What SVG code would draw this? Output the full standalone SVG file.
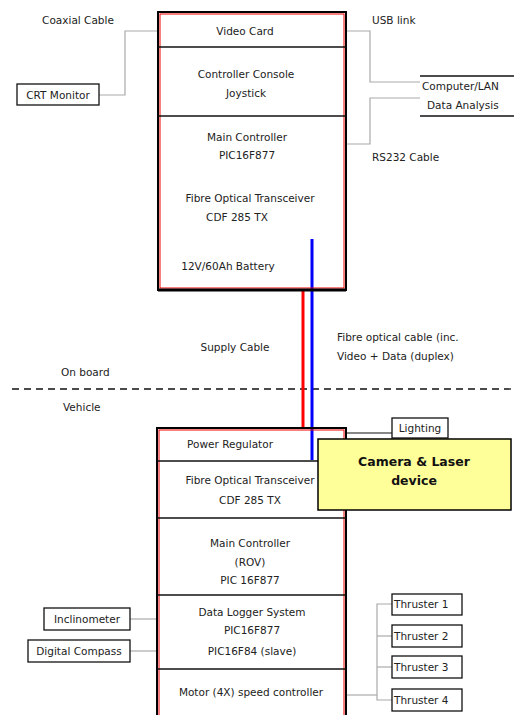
<svg xmlns="http://www.w3.org/2000/svg" width="514" height="715" viewBox="0 0 514 715">
<style>
text{font-family:"DejaVu Sans",Verdana,sans-serif;font-size:10.5px;fill:#222;text-anchor:middle}
.l{text-anchor:start}
.out{fill:none;stroke:#000;stroke-width:2}
.in{fill:none;stroke:#e00;stroke-width:1}
.div{stroke:#111;stroke-width:1.5}
.gray{fill:none;stroke:#aaa;stroke-width:1.2}
.sb{fill:#fff;stroke:#111;stroke-width:1.3}
.cam{font-family:"DejaVu Sans",Verdana,sans-serif;font-weight:bold;font-size:12.5px;fill:#111}
</style>
<rect width="514" height="715" fill="#fff"/>
<g id="connectors">
<polyline class="gray" points="99,95 125,95 125,31 158,31"/>
<polyline class="gray" points="346,31 370,31 370,82 420,82"/>
<polyline class="gray" points="346,144 370,144 370,98 420,98"/>
<line x1="346" y1="433" x2="392" y2="433" stroke="#111" stroke-width="1.2"/>
<line class="gray" x1="130" y1="619" x2="157" y2="619"/>
<line class="gray" x1="130" y1="651" x2="157" y2="651"/>
<polyline class="gray" points="346,695 377,695"/>
<polyline class="gray" points="392,604 377,604 377,700 392,700"/>
<line class="gray" x1="377" y1="636" x2="392" y2="636"/>
<line class="gray" x1="377" y1="667" x2="392" y2="667"/>
<line x1="12" y1="389" x2="514" y2="389" stroke="#111" stroke-width="1.3" stroke-dasharray="7,5"/>
<line x1="303" y1="290" x2="303" y2="428" stroke="#f00" stroke-width="3"/>
<line x1="312" y1="239" x2="312" y2="460" stroke="#00f" stroke-width="3"/>
</g>
<g id="labels">
<text x="78" y="24">Coaxial Cable</text>
<text class="l" x="372" y="24">USB link</text>
<text class="l" x="372" y="161">RS232 Cable</text>
<text x="235" y="351">Supply Cable</text>
<text class="l" x="337" y="341">Fibre optical cable (inc.</text>
<text class="l" x="337" y="360">Video + Data (duplex)</text>
<text class="l" x="61" y="376">On board</text>
<text class="l" x="63" y="411">Vehicle</text>
</g>
<g id="crt-monitor">
<rect class="sb" x="17" y="84" width="82" height="21"/>
<text x="58" y="99">CRT Monitor</text>
</g>
<g id="computer-lan">
<line x1="420" y1="76" x2="514" y2="76" stroke="#111" stroke-width="1.5"/>
<line x1="420" y1="116" x2="514" y2="116" stroke="#111" stroke-width="1.5"/>
<text class="l" x="422" y="90">Computer/LAN</text>
<text class="l" x="427" y="109">Data Analysis</text>
</g>
<g id="top-box">
<rect class="out" x="158" y="12" width="188" height="278"/>
<rect class="in" x="160" y="14" width="184" height="274"/>
<line class="div" x1="158" y1="47" x2="346" y2="47"/>
<line class="div" x1="158" y1="116" x2="346" y2="116"/>
<line x1="158" y1="290" x2="346" y2="290" stroke="#000" stroke-width="3"/>
<text x="245" y="35">Video Card</text>
<text x="246" y="78">Controller Console</text>
<text x="246" y="97">Joystick</text>
<text x="247" y="141">Main Controller</text>
<text x="247" y="159">PIC16F877</text>
<text x="250" y="202">Fibre Optical Transceiver</text>
<text x="237" y="221">CDF  285 TX</text>
<text x="228" y="270">12V/60Ah Battery</text>
</g>
<g id="lighting">
<rect class="sb" x="392" y="418" width="56" height="20"/>
<text x="420" y="432">Lighting</text>
</g>
<g id="bottom-box">
<rect class="out" x="157" y="428" width="189" height="300"/>
<rect class="in" x="159" y="430" width="185" height="296"/>
<line class="div" x1="157" y1="461" x2="346" y2="461"/>
<line class="div" x1="157" y1="518" x2="346" y2="518"/>
<line class="div" x1="157" y1="595" x2="346" y2="595"/>
<line class="div" x1="157" y1="669" x2="346" y2="669"/>
<text x="230" y="448">Power Regulator</text>
<text x="250" y="484">Fibre Optical Transceiver</text>
<text x="250" y="504">CDF  285 TX</text>
<text x="250" y="547">Main Controller</text>
<text x="250" y="566">(ROV)</text>
<text x="250" y="584">PIC 16F877</text>
<text x="252" y="616">Data Logger System</text>
<text x="252" y="634">PIC16F877</text>
<text x="252" y="655">PIC16F84 (slave)</text>
<text x="251" y="696">Motor (4X) speed controller</text>
</g>
<g id="camera-laser">
<rect x="318" y="439" width="193" height="71" fill="#ffff99" stroke="#000" stroke-width="1.5"/>
<text class="cam" x="414" y="466">Camera &amp; Laser</text>
<text class="cam" x="414" y="485">device</text>
</g>
<g id="inclinometer">
<rect class="sb" x="44" y="608" width="86" height="22"/>
<text x="87" y="623">Inclinometer</text>
</g>
<g id="digital-compass">
<rect class="sb" x="28" y="640" width="102" height="22"/>
<text x="79" y="655">Digital Compass</text>
</g>
<g id="thruster-1"><rect class="sb" x="392" y="594" width="70" height="21"/><text class="l" x="394" y="608">Thruster 1</text></g>
<g id="thruster-2"><rect class="sb" x="392" y="625" width="70" height="22"/><text class="l" x="394" y="640">Thruster 2</text></g>
<g id="thruster-3"><rect class="sb" x="392" y="656" width="70" height="22"/><text class="l" x="394" y="671">Thruster 3</text></g>
<g id="thruster-4"><rect class="sb" x="392" y="689" width="70" height="22"/><text class="l" x="394" y="704">Thruster 4</text></g>
</svg>
